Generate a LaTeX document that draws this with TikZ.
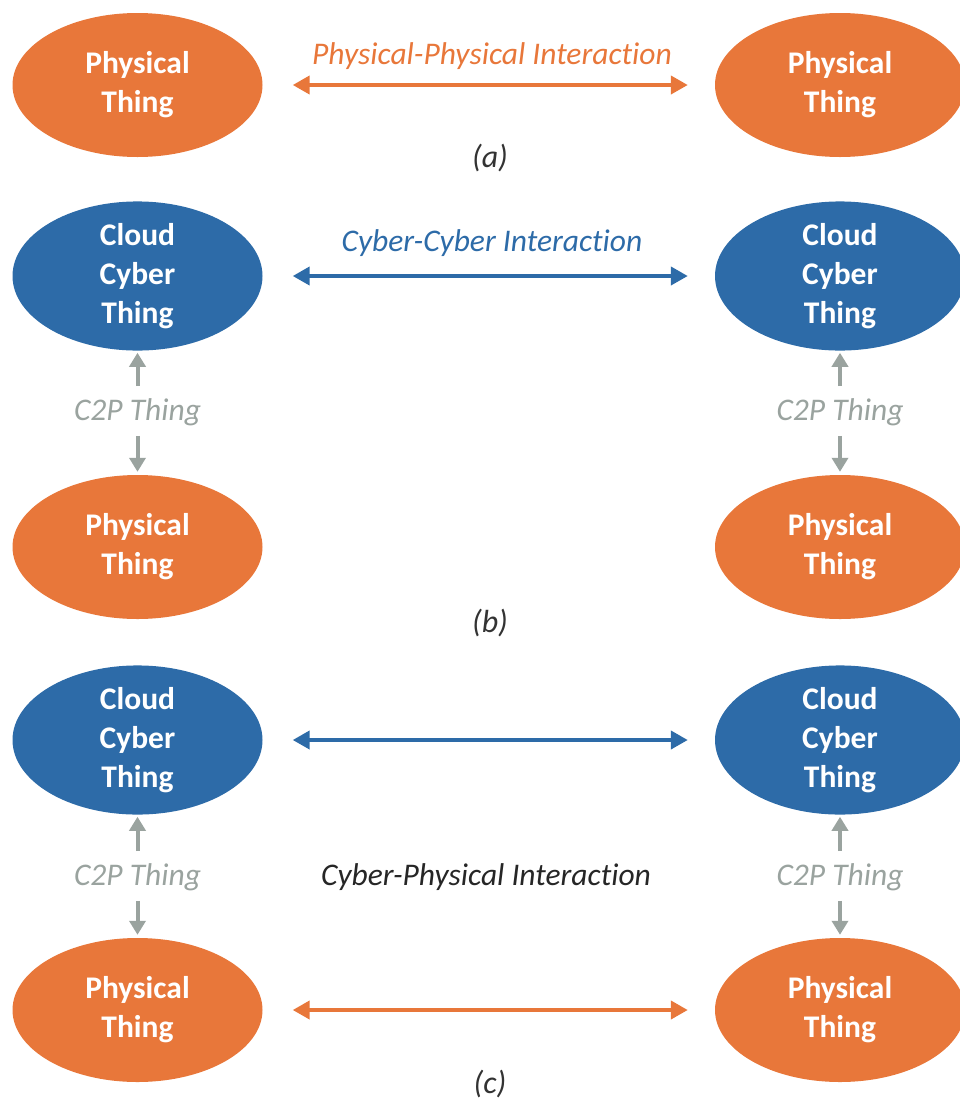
\documentclass[tikz,border=0pt]{standalone}
\usepackage{fontspec}
\setmainfont{Carlito}[Ligatures=NoCommon]
\usetikzlibrary{shapes.geometric,arrows.meta}
\definecolor{thingorange}{HTML}{E8773A}
\definecolor{thingblue}{HTML}{2D6BA8}
\definecolor{linkgray}{HTML}{9AA39F}
\tikzset{
  thing/.style={ellipse, draw=none, minimum width=250pt, minimum height=144pt,
    inner sep=0pt, align=center, text=white,
    font=\fontsize{31.5}{39}\selectfont\bfseries},
  phys/.style={thing, fill=thingorange},
  cyber/.style={thing, fill=thingblue},
  lbl/.style={font=\fontsize{31.5}{36}\selectfont\itshape, inner sep=0pt},
  sublabel/.style={font=\fontsize{32}{36}\selectfont\itshape, text=black!80, inner sep=0pt},
  twoway/.style={line width=4pt, {Triangle[length=17pt,width=18pt]}-{Triangle[length=17pt,width=18pt]}},
  oneway/.style={line width=4pt, -{Triangle[length=14pt,width=16pt]}, draw=linkgray},
}
\begin{document}
\begin{tikzpicture}[x=1pt,y=-1pt]
\useasboundingbox (0,0) rectangle (960,1101);
\clip (0,0) rectangle (960,1101);

% (a) physical to physical
\node[phys] (pa1) at (137.5,85) {Physical\\Thing};
\node[phys] (pa2) at (840,85) {Physical\\Thing};
\draw[twoway, draw=thingorange] ([xshift=30pt]pa1.east) -- ([xshift=-27pt]pa2.west);
\node[lbl, text=thingorange] (la) at (492,56) {Physical-Physical Interaction};
\node[sublabel] (ca) at (490,158) {(a)};

% (b) cyber to cyber
\node[cyber] (cb1) at (137.5,276) {Cloud\\Cyber\\Thing};
\node[cyber] (cb2) at (840,276) {Cloud\\Cyber\\Thing};
\draw[twoway, draw=thingblue] ([xshift=30pt]cb1.east) -- ([xshift=-27pt]cb2.west);
\node[lbl, text=thingblue] (lb) at (492,243) {Cyber-Cyber Interaction};
\node[lbl, text=linkgray] (gb1) at (137.5,412) {C2P Thing};
\node[lbl, text=linkgray] (gb2) at (840,412) {C2P Thing};
\node[phys] (pb1) at (137.5,547) {Physical\\Thing};
\node[phys] (pb2) at (840,547) {Physical\\Thing};
\draw[oneway] ([yshift=12pt]gb1.north) -- ([yshift=-2pt]cb1.south);
\draw[oneway] ([yshift=-10pt]gb1.south) -- ([yshift=3pt]pb1.north);
\draw[oneway] ([yshift=12pt]gb2.north) -- ([yshift=-2pt]cb2.south);
\draw[oneway] ([yshift=-10pt]gb2.south) -- ([yshift=3pt]pb2.north);
\node[sublabel] (cbl) at (490,623) {(b)};

% (c) cyber-physical
\node[cyber] (cc1) at (137.5,740) {Cloud\\Cyber\\Thing};
\node[cyber] (cc2) at (840,740) {Cloud\\Cyber\\Thing};
\draw[twoway, draw=thingblue] ([xshift=30pt]cc1.east) -- ([xshift=-27pt]cc2.west);
\node[lbl, text=linkgray] (gc1) at (137.5,877) {C2P Thing};
\node[lbl, text=linkgray] (gc2) at (840,877) {C2P Thing};
\node[lbl, text=black!85] (lc) at (486,877) {Cyber-Physical Interaction};
\node[phys] (pc1) at (137.5,1010) {Physical\\Thing};
\node[phys] (pc2) at (840,1010) {Physical\\Thing};
\draw[oneway] ([yshift=12pt]gc1.north) -- ([yshift=-2pt]cc1.south);
\draw[oneway] ([yshift=-10pt]gc1.south) -- ([yshift=3pt]pc1.north);
\draw[oneway] ([yshift=12pt]gc2.north) -- ([yshift=-2pt]cc2.south);
\draw[oneway] ([yshift=-10pt]gc2.south) -- ([yshift=3pt]pc2.north);
\draw[twoway, draw=thingorange] ([xshift=30pt]pc1.east) -- ([xshift=-27pt]pc2.west);
\node[sublabel] (ccl) at (490,1084) {(c)};
\end{tikzpicture}
\end{document}
